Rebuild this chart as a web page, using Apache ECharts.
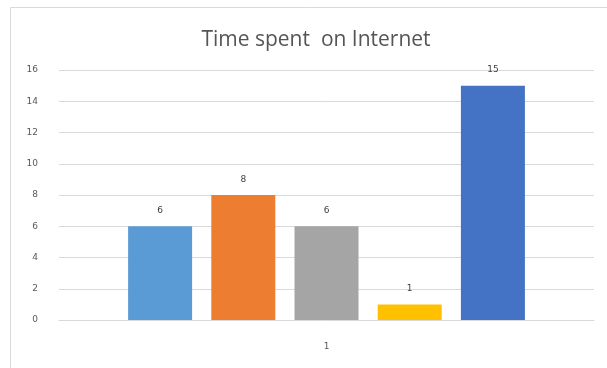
<!DOCTYPE html>
<html>
<head>
<meta charset="utf-8">
<script src="https://cdn.jsdelivr.net/npm/echarts@6/dist/echarts.min.js"></script>
<style>
  html, body { margin: 0; padding: 0; background: #fff; }
  #chart { width: 607px; height: 368px; }
</style>
</head>
<body>
<div id="chart"></div>
<script>
// Hours spent on the internet, one bar per respondent group
const categories = ['1'];
const seriesNames = ['A', 'B', 'C', 'D', 'E'];
const seriesValues = [6, 8, 6, 1, 15];
const seriesColors = ['#5B9BD5', '#ED7D31', '#A5A5A5', '#FFC000', '#4472C4'];
const yTicks = { min: 0, max: 16, interval: 2 };

const chart = echarts.init(document.getElementById('chart'));

const series = seriesNames.map((name, i) => ({
  name: name,
  type: 'bar',
  data: [seriesValues[i]],
  barWidth: 64,
  barGap: '30%',
  itemStyle: { color: seriesColors[i] },
  label: {
    show: true,
    position: 'top',
    distance: 11,
    color: '#404040',
    fontSize: 9,
    fontFamily: 'DejaVu Sans'
  }
}));

chart.setOption({
  animation: false,
  backgroundColor: '#fff',
  title: {
    text: 'Time spent  on Internet',
    left: 311,
    textAlign: 'center',
    top: 25,
    textStyle: {
      color: '#555555',
      fontSize: 21,
      fontWeight: 'normal',
      fontFamily: 'Open Sans'
    }
  },
  graphic: [{
    type: 'rect',
    shape: { x: 10.5, y: 7.5, width: 610, height: 380 },
    style: { fill: 'none', stroke: '#D9D9D9', lineWidth: 1 },
    silent: true,
    z: -1
  }],
  grid: { left: 59, right: 13, top: 70, bottom: 48 },
  xAxis: {
    type: 'category',
    data: categories,
    axisLine: { show: true, lineStyle: { color: '#D9D9D9' } },
    axisTick: { show: false },
    axisLabel: { color: '#595959', fontSize: 9, margin: 22, fontFamily: 'DejaVu Sans' }
  },
  yAxis: {
    type: 'value',
    min: yTicks.min,
    max: yTicks.max,
    interval: yTicks.interval,
    axisLine: { show: false },
    axisTick: { show: false },
    axisLabel: { color: '#595959', fontSize: 9, margin: 21, fontFamily: 'DejaVu Sans' },
    splitLine: { lineStyle: { color: '#D9D9D9' } }
  },
  series: series
});
</script>
</body>
</html>
